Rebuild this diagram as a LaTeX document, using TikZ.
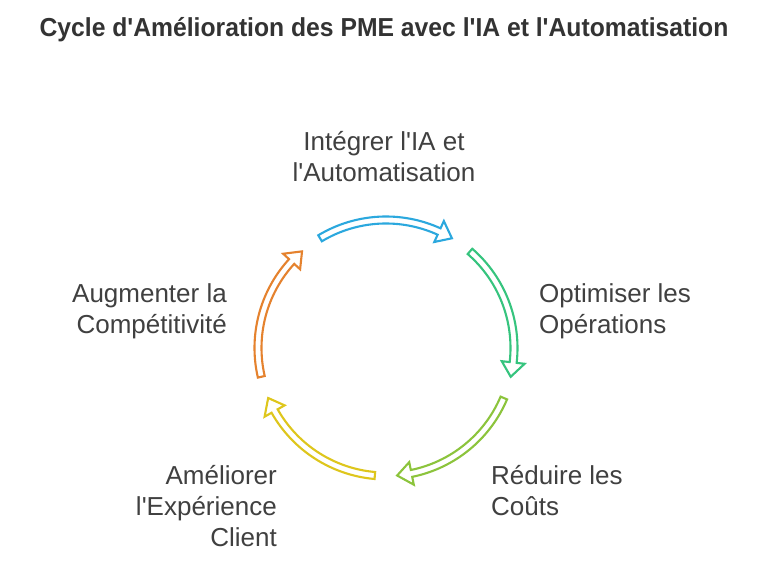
\documentclass[tikz,border=0pt]{standalone}
\usepackage{fontspec}
\setmainfont{Liberation Sans}
\newfontfamily\titlefont[FakeStretch=0.95]{Liberation Sans}
\newfontfamily\labelfont{Liberation Sans}
\usetikzlibrary{positioning}

\definecolor{titlegray}{HTML}{333333}
\definecolor{labelgray}{HTML}{404040}
\definecolor{arrowblue}{HTML}{2BA8DE}
\definecolor{arrowgreen}{HTML}{36C47E}
\definecolor{arrowlime}{HTML}{8CC43C}
\definecolor{arrowyellow}{HTML}{DEC61C}
\definecolor{arroworange}{HTML}{E5822E}

% radii of the hollow arrows
\newcommand{\arrowRout}{131.5}
\newcommand{\arrowRin}{124.5}
\newcommand{\arrowRmid}{128}
\newcommand{\arrowRhi}{139.5}
\newcommand{\arrowRlo}{116.5}
\newcommand{\arrowHead}{6.5}

% #1 colour, #2 tail angle, #3 tip angle (clockwise)
\newcommand{\cyclearrow}[3]{%
  \draw[cyclestroke, draw=#1] (#2:\arrowRout) arc[start angle=#2, end angle={#3+\arrowHead}, radius=\arrowRout]
    -- ({#3+\arrowHead}:\arrowRhi) -- (#3:\arrowRmid) -- ({#3+\arrowHead}:\arrowRlo) -- ({#3+\arrowHead}:\arrowRin)
    arc[start angle={#3+\arrowHead}, end angle=#2, radius=\arrowRin] -- cycle;}

\tikzset{
  cyclestroke/.style={line width=2.1pt, line join=miter, fill=white},
  lbl/.style={font=\labelfont\fontsize{26}{31}\selectfont, text=labelgray, inner sep=0pt}
}

\begin{document}
\begin{tikzpicture}[x=1pt, y=1pt]
  \useasboundingbox[fill=white] (0,0) rectangle (768,569);

  % Title
  \node[font=\titlefont\bfseries\fontsize{26}{30}\selectfont, text=titlegray, anchor=base, inner sep=0pt]
    (title) at (384,532.5) {Cycle d'Amélioration des PME avec l'IA et l'Automatisation};

  % Arrows of the cycle
  \begin{scope}[shift={(386,221)}]
    \coordinate (hub) at (0,0);
    \cyclearrow{arrowblue}{121}{59}
    \cyclearrow{arrowgreen}{49}{-13}
    \cyclearrow{arrowlime}{-23}{-85}
    \cyclearrow{arrowyellow}{-95}{-157}
    \cyclearrow{arroworange}{193}{131}
  \end{scope}

  % Labels (base = baseline of the last line)
  \node[lbl, align=center, anchor=base] (integrer) at (384,387.5) {Intégrer l'IA et\\l'Automatisation};
  \node[lbl, align=left, anchor=base west] (optimiser) at (539,235) {Optimiser les\\Opérations};
  \node[lbl, align=left, anchor=base west] (reduire) at (491,53) {Réduire les\\Coûts};
  \node[lbl, align=right, anchor=base east] (ameliorer) at (277,22) {Améliorer\\l'Expérience\\Client};
  \node[lbl, align=right, anchor=base east] (augmenter) at (227,235) {Augmenter la\\Compétitivité};
\end{tikzpicture}
\end{document}
